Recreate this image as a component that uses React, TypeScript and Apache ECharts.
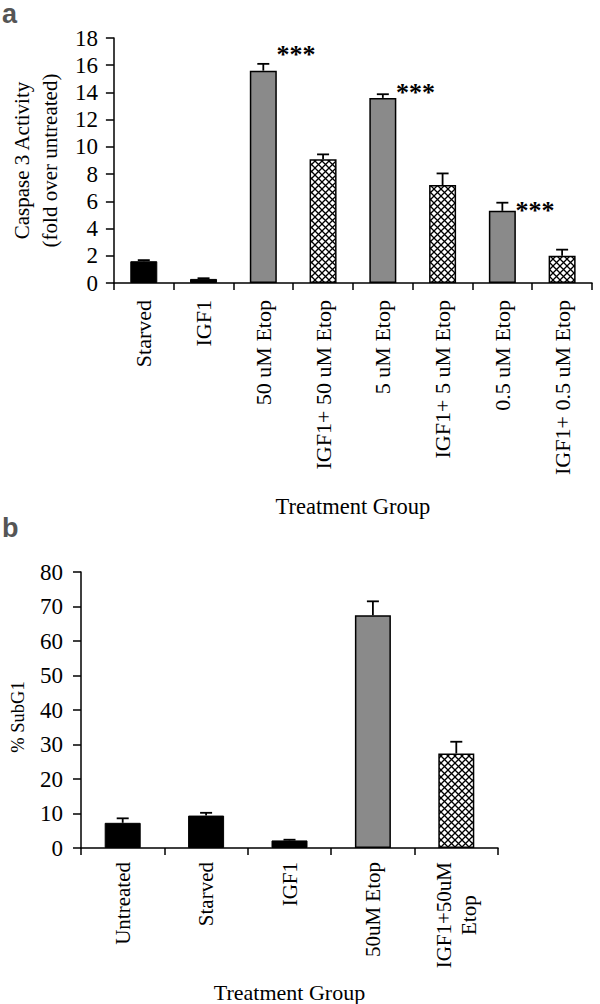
import React, { useEffect, useRef } from 'react';
import * as echarts from 'echarts';

// ---------- Panel a: Caspase 3 activity ----------
const caspaseCategories = [
  'Starved',
  'IGF1',
  '50 uM Etop',
  'IGF1+ 50 uM Etop',
  '5 uM Etop',
  'IGF1+ 5 uM Etop',
  '0.5 uM Etop',
  'IGF1+ 0.5 uM Etop',
];
const caspaseValues = [1.6, 0.3, 15.6, 9.1, 13.6, 7.2, 5.3, 2.0];
const caspaseErrors = [0.08, 0.05, 0.5, 0.35, 0.27, 0.85, 0.6, 0.45];
const caspaseKinds = ['solid', 'solid', 'gray', 'hatch', 'gray', 'hatch', 'gray', 'hatch'];
const caspaseTicks = [0, 2, 4, 6, 8, 10, 12, 14, 16, 18];
const sigIndex = [2, 4, 6];
const sigHeights = [16.8, 14.0, 5.3];
const sigText = '***';

// ---------- Panel b: % SubG1 ----------
const subG1Categories = ['Untreated', 'Starved', 'IGF1', '50uM Etop', 'IGF1+50uM\nEtop'];
const subG1Values = [7.3, 9.4, 2.2, 67.5, 27.4];
const subG1Errors = [1.3, 0.8, 0.2, 4.0, 3.4];
const subG1Kinds = ['solid', 'solid', 'solid', 'gray', 'hatch'];
const subG1Ticks = [0, 10, 20, 30, 40, 50, 60, 70, 80];

const SERIF = '"Liberation Serif", "Times New Roman", Times, serif';
const SANS = '"Liberation Sans", Arial, sans-serif';

function makeHatch(): HTMLCanvasElement {
  const s = 7;
  const c = document.createElement('canvas');
  c.width = s;
  c.height = s;
  const ctx = c.getContext('2d')!;
  ctx.fillStyle = '#ffffff';
  ctx.fillRect(0, 0, s, s);
  ctx.strokeStyle = '#000000';
  ctx.lineWidth = 1.3;
  ctx.beginPath();
  ctx.moveTo(0, 0);
  ctx.lineTo(s, s);
  ctx.moveTo(s, 0);
  ctx.lineTo(0, s);
  ctx.stroke();
  return c;
}

export default function App() {
  const ref = useRef<HTMLDivElement>(null);

  useEffect(() => {
    if (!ref.current) return;
    document.body.style.margin = '0';
    const chart = echarts.init(ref.current, undefined, { renderer: 'svg' });
    const hatch = makeHatch();

    const styleFor = (kind: string) => {
      if (kind === 'solid') return { color: '#000000', borderColor: '#000000', borderWidth: 1 };
      if (kind === 'gray') return { color: '#8a8a8a', borderColor: '#000000', borderWidth: 1.5 };
      return {
        color: { image: hatch, repeat: 'repeat' } as any,
        borderColor: '#000000',
        borderWidth: 1.5,
      };
    };

    const errRender = (params: any, api: any) => {
      const i = api.value(0);
      const v = api.value(1);
      const e = api.value(2);
      const base = api.coord([i, v]);
      const top = api.coord([i, v + e]);
      const st = { stroke: '#000000', lineWidth: 1.8 };
      return {
        type: 'group',
        children: [
          { type: 'line', shape: { x1: base[0], y1: base[1], x2: top[0], y2: top[1] }, style: st },
          { type: 'line', shape: { x1: top[0] - 6, y1: top[1], x2: top[0] + 6, y2: top[1] }, style: st },
        ],
      };
    };

    const sigRender = (params: any, api: any) => {
      const i = api.value(0);
      const y = api.value(1);
      const p = api.coord([i, y]);
      const half = (api.size([1, 0])[0] as number) * 0.22;
      return {
        type: 'text',
        x: p[0] + half,
        y: p[1],
        style: {
          text: sigText,
          fontSize: 26,
          fontWeight: 'bold',
          fontFamily: SERIF,
          fill: '#000000',
          align: 'left',
          verticalAlign: 'middle',
        },
      };
    };

    const axisLineStyle = { color: '#000000', width: 1.5 };

    const option: any = {
      animation: false,
      backgroundColor: '#ffffff',
      graphic: [
        {
          type: 'text',
          left: 2,
          top: 0,
          style: { text: 'a', fontSize: 27, lineHeight: 20, fontWeight: 'bold', fontFamily: SANS, fill: '#555555' },
        },
        {
          type: 'text',
          left: 2,
          top: 514,
          style: { text: 'b', fontSize: 27, lineHeight: 20, fontWeight: 'bold', fontFamily: SANS, fill: '#555555' },
        },
      ],
      grid: [
        { left: 104, top: 38, width: 488, height: 245 },
        { left: 78, top: 572, width: 420, height: 280 },
      ],
      xAxis: [
        {
          gridIndex: 0,
          type: 'category',
          data: caspaseCategories,
          boundaryGap: true,
          axisLine: { lineStyle: axisLineStyle },
          axisTick: { show: true, length: 7, alignWithLabel: false, lineStyle: axisLineStyle },
          axisLabel: {
            interval: 0,
            rotate: 90,
            margin: 17,
            fontSize: 22,
            fontFamily: SERIF,
            color: '#000000',
          },
          name: 'Treatment Group',
          nameLocation: 'middle',
          nameGap: 212,
          nameTextStyle: { fontSize: 22.5, fontFamily: SERIF, color: '#000000' },
        },
        {
          gridIndex: 1,
          type: 'category',
          data: subG1Categories,
          boundaryGap: true,
          axisLine: { lineStyle: axisLineStyle },
          axisTick: { show: true, length: 7, alignWithLabel: false, lineStyle: axisLineStyle },
          axisLabel: {
            interval: 0,
            rotate: 90,
            margin: 14,
            fontSize: 21,
            fontFamily: SERIF,
            color: '#000000',
            lineHeight: 25,
            formatter: (v: string) => {
              const parts = v.split('\n');
              if (parts.length < 2) return v;
              return '{l|' + parts[0] + '}\n{c|' + parts[1] + '}';
            },
            rich: {
              l: { fontSize: 21, fontFamily: SERIF, color: '#000000', lineHeight: 25 },
              c: { fontSize: 21, fontFamily: SERIF, color: '#000000', lineHeight: 25, align: 'center' },
            },
          },
          name: 'Treatment Group',
          nameLocation: 'middle',
          nameGap: 133,
          nameTextStyle: { fontSize: 22, fontFamily: SERIF, color: '#000000' },
        },
      ],
      yAxis: [
        {
          gridIndex: 0,
          type: 'value',
          min: caspaseTicks[0],
          max: caspaseTicks[caspaseTicks.length - 1],
          interval: caspaseTicks[1] - caspaseTicks[0],
          splitLine: { show: false },
          axisLine: { show: true, lineStyle: axisLineStyle },
          axisTick: { show: true, length: 8, lineStyle: axisLineStyle },
          axisLabel: { margin: 16, fontSize: 23, fontFamily: SERIF, color: '#000000' },
          name: 'Caspase 3 Activity\n(fold over untreated)',
          nameLocation: 'middle',
          nameRotate: 90,
          nameGap: 40,
          nameTextStyle: { fontSize: 21, lineHeight: 28, fontFamily: SERIF, color: '#000000' },
        },
        {
          gridIndex: 1,
          type: 'value',
          min: subG1Ticks[0],
          max: subG1Ticks[subG1Ticks.length - 1],
          interval: subG1Ticks[1] - subG1Ticks[0],
          splitLine: { show: false },
          axisLine: { show: true, lineStyle: axisLineStyle },
          axisTick: { show: true, length: 8, lineStyle: axisLineStyle },
          axisLabel: { margin: 18, fontSize: 23, fontFamily: SERIF, color: '#000000' },
          name: '% SubG1',
          nameLocation: 'middle',
          nameRotate: 90,
          nameGap: 54,
          nameTextStyle: { fontSize: 18.5, fontFamily: SERIF, color: '#000000', padding: [0, 14, 0, 0] },
        },
      ],
      series: [
        {
          type: 'bar',
          xAxisIndex: 0,
          yAxisIndex: 0,
          barWidth: 27,
          data: caspaseValues.map((v, i) => ({ value: v, itemStyle: styleFor(caspaseKinds[i]) })),
        },
        {
          type: 'custom',
          xAxisIndex: 0,
          yAxisIndex: 0,
          z: 5,
          itemStyle: { color: '#000000' },
          renderItem: errRender,
          data: caspaseValues.map((v, i) => [i, v, caspaseErrors[i]]),
        },
        {
          type: 'custom',
          xAxisIndex: 0,
          yAxisIndex: 0,
          z: 5,
          itemStyle: { color: '#000000' },
          renderItem: sigRender,
          data: sigIndex.map((idx, k) => [idx, sigHeights[k]]),
        },
        {
          type: 'bar',
          xAxisIndex: 1,
          yAxisIndex: 1,
          barWidth: 36,
          data: subG1Values.map((v, i) => ({ value: v, itemStyle: styleFor(subG1Kinds[i]) })),
        },
        {
          type: 'custom',
          xAxisIndex: 1,
          yAxisIndex: 1,
          z: 5,
          itemStyle: { color: '#000000' },
          renderItem: errRender,
          data: subG1Values.map((v, i) => [i, v, subG1Errors[i]]),
        },
      ],
    };

    chart.setOption(option);
    return () => {
      chart.dispose();
    };
  }, []);

  return (
    <div
      ref={ref}
      style={{ position: 'absolute', left: 0, top: 0, width: 600, height: 1004, background: '#ffffff' }}
    />
  );
}
